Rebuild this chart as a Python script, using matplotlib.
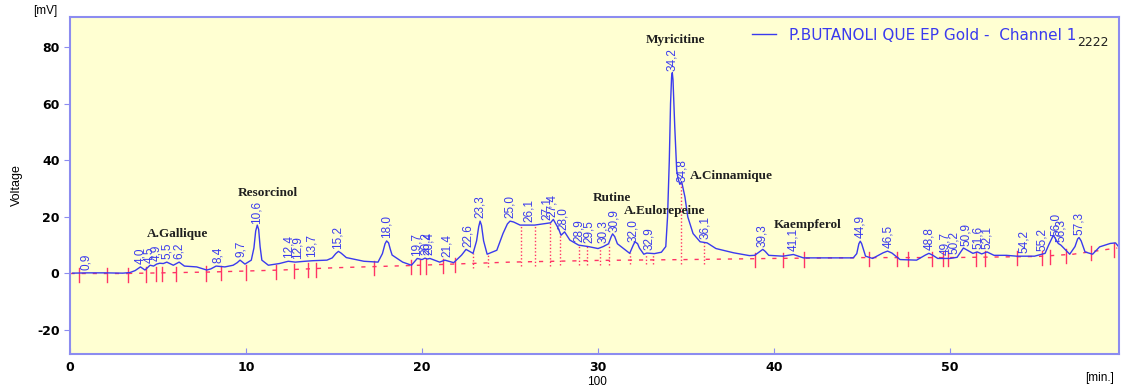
import matplotlib
matplotlib.use("Agg")
import matplotlib.pyplot as plt
import numpy as np

plt.rcParams["axes.unicode_minus"] = False

# chromatogram trace (min, mV)
trace_t = [0.15, 1.0, 2.0, 3.0, 3.4, 3.7, 4.0, 4.26, 4.55, 4.75, 4.92, 5.1, 5.3, 5.5,
           5.87, 6.2, 6.5, 7.2, 7.77, 8.0, 8.3, 8.8, 9.27, 9.5, 9.66, 9.94, 10.3, 10.45,
           10.55, 10.64, 10.72, 10.8, 10.9, 11.27, 11.9, 12.4, 12.8, 13.35, 13.8, 14.6,
           14.9, 15.1, 15.25, 15.4, 15.7, 16.7, 17.5, 17.75, 17.9, 17.99, 18.1, 18.2,
           18.3, 18.9, 19.4, 19.73, 20.0, 20.17, 20.3, 20.45, 21.0, 21.3, 21.8, 22.25,
           22.5, 22.9, 23.1, 23.22, 23.3, 23.38, 23.5, 23.7, 24.25, 24.6, 24.85, 25.0,
           25.2, 25.57, 26.4, 27.3, 27.46, 27.75, 27.9, 28.1, 28.4, 28.9, 29.45, 30.0,
           30.3, 30.6, 30.75, 30.83, 30.95, 31.1, 31.8, 32.0, 32.1, 32.25, 32.35, 32.6,
           32.77, 33.2, 33.6, 33.85, 33.95, 34.05, 34.12, 34.18, 34.22, 34.26, 34.3,
           34.36, 34.47, 34.55, 34.65, 34.75, 34.94, 35.1, 35.4, 35.8, 36.2, 36.7, 37.7,
           38.6, 38.9, 39.2, 39.36, 39.5, 39.7, 40.5, 41.1, 41.67, 44.5, 44.7, 44.82,
           44.9, 44.98, 45.2, 45.6, 46.2, 46.45, 46.7, 47.16, 48.1, 48.6, 48.8, 49.0,
           49.3, 50.0, 50.4, 50.76, 51.3, 51.55, 51.8, 52.1, 52.5, 53.2, 53.8, 54.8,
           55.4, 55.6, 55.87, 56.15, 56.3, 56.8, 57.1, 57.25, 57.33, 57.45, 57.67, 58.1,
           58.5, 59.1, 59.4, 59.56]
trace_mv = [0.1, 0.2, 0.2, 0.1, 0.3, 1.0, 2.3, 1.2, 2.9, 2.6, 3.3, 3.6, 3.5, 4.0,
            2.9, 4.0, 2.6, 2.3, 1.2, 1.6, 2.6, 2.3, 2.9, 3.8, 4.7, 3.3, 4.7, 9.0,
            15.0, 17.1, 15.5, 9.5, 4.7, 2.9, 3.5, 4.3, 4.0, 4.3, 4.5, 4.7,
            5.5, 7.0, 7.8, 7.2, 5.6, 4.3, 4.0, 7.0, 10.5, 11.5, 10.8, 8.5,
            6.5, 4.0, 2.9, 5.3, 4.9, 5.4, 5.1, 5.3, 4.0, 4.7, 3.8, 6.5,
            8.5, 7.1, 11.5, 16.5, 18.5, 17.0, 11.5, 6.8, 8.2, 14.1, 17.5, 18.5,
            18.2, 17.1, 17.1, 17.9, 19.1, 15.9, 13.5, 14.7, 11.8, 10.0, 9.5, 8.8,
            9.5, 10.5, 13.0, 14.0, 13.0, 10.5, 7.1, 10.0, 11.2, 10.5, 9.0, 6.8,
            7.2, 7.0, 7.5, 9.5, 20.0, 40.0, 60.0, 69.5, 71.0, 68.5, 62.0,
            51.8, 36.5, 33.5, 31.5, 32.5, 27.0, 20.0, 14.1, 11.2, 10.8, 8.8, 7.3,
            6.3, 6.4, 7.8, 8.5, 7.8, 6.4, 6.1, 6.7, 5.5, 5.5, 7.0, 10.5,
            11.4, 10.5, 6.1, 5.3, 7.3, 7.9, 7.2, 4.9, 4.7, 6.5, 7.1, 6.5,
            5.3, 5.3, 5.7, 9.0, 7.1, 7.6, 6.9, 7.6, 6.4, 6.4, 6.1, 6.1,
            7.1, 10.0, 13.5, 10.6, 10.0, 6.8, 9.5, 12.2, 12.7, 11.5, 7.6, 6.8,
            9.4, 10.6, 10.8, 9.6]

# integration baseline (red dashed)
base_t = [3.3, 8.0, 12.0, 15.0, 19.4, 25.0, 30.0, 35.0, 40.0, 45.0, 50.0, 55.0, 57.0, 59.5]
base_mv = [0.0, 0.5, 1.2, 2.0, 2.8, 4.0, 4.6, 4.9, 5.3, 5.6, 5.6, 6.0, 6.8, 9.0]

# peak boundary marks and drop lines
mark_t = [0.5, 2.1, 3.3, 4.3, 4.9, 5.2, 6.0, 7.7, 8.6, 10.0, 11.7, 12.7, 13.5, 14.0,
          17.3, 19.4, 19.9, 20.2, 21.2, 21.9, 38.9, 40.5, 41.7, 45.4, 47.0, 47.6,
          49.0, 49.6, 49.9, 51.5, 52.0, 53.8, 55.2, 55.7, 56.6, 58.0, 59.3]
drop_t = [22.9, 23.75, 25.6, 26.4, 27.3, 27.85, 28.9, 29.4, 30.1, 30.6, 31.8, 32.7,
          33.1, 34.7, 36.0]

# retention time labels
peak_rt = [0.9, 4.0, 4.5, 4.9, 5.5, 6.2, 8.4, 9.7, 10.6, 12.4, 12.9, 13.7, 15.2, 18.0,
           19.7, 20.2, 20.4, 21.4, 22.6, 23.3, 25.0, 26.1, 27.1, 27.4, 28.0, 28.9,
           29.5, 30.3, 30.9, 32.0, 32.9, 34.2, 34.8, 36.1, 39.3, 41.1, 44.9, 46.5,
           48.8, 49.7, 50.2, 50.9, 51.6, 52.1, 54.2, 55.2, 56.0, 56.3, 57.3]

# compound names
names = ["A.Gallique", "Resorcinol", "Rutine", "A.Eulorepeine", "Myricitine",
         "A.Cinnamique", "Kaempferol"]
name_t = [6.1, 11.25, 30.8, 33.8, 34.4, 37.6, 41.9]
name_mv = [14.0, 28.3, 26.6, 22.0, 82.4, 34.4, 17.0]

blue = "#3a3aee"
red = "#ff3366"
frame = "#8c8cf0"

fig = plt.figure(figsize=(11.25, 3.89), dpi=100)
ax = fig.add_axes([70 / 1125, 1 - 354 / 389, 1049 / 1125, 337 / 389])
ax.set_facecolor("#ffffd2")

# baseline
ax.plot([0.0, 3.3], [0.0, 0.0], color=red, lw=1, ls=(0, (3, 5)))
ax.plot(base_t, base_mv, color=red, lw=1, ls=(0, (3, 5)))

for t in mark_t:
    b = np.interp(t, base_t, base_mv) if t >= 3.3 else 0.0
    ax.plot([t, t], [b - 3.0, b + 2.0], color=red, lw=1)
for t in drop_t:
    b = np.interp(t, base_t, base_mv)
    c = np.interp(t, trace_t, trace_mv)
    ax.plot([t, t], [b - 1.5, c], color=red, lw=1, ls=(0, (1, 1.5)))

ax.plot(trace_t, trace_mv, color=blue, lw=1, label="P.BUTANOLI QUE EP Gold -  Channel 1")

narrow = ["Liberation Sans Narrow", "Liberation Sans", "DejaVu Sans"]
for rt in peak_rt:
    y = np.interp(rt, trace_t, trace_mv) + 1.2
    ax.text(rt, y, f"{rt:.1f}".replace(".", ","), rotation=90, ha="center", va="bottom",
            color=blue, fontsize=8.5, family=narrow)

for n, t, y in zip(names, name_t, name_mv):
    ax.text(t, y, n, ha="center", va="center", fontsize=9.5, fontweight="bold",
            family=["Liberation Serif", "DejaVu Serif"], color="#202020")

ax.set_xlim(0, 59.6)
ax.set_ylim(-28.5, 90.7)
ax.set_xticks([0, 10, 20, 30, 40, 50])
ax.set_yticks([-20, 0, 20, 40, 60, 80])
for s in ax.spines.values():
    s.set_color(frame)
    s.set_linewidth(1.5)
ax.tick_params(axis="x", direction="in", length=4, color=frame, pad=5)
ax.tick_params(axis="y", direction="out", length=4, color=frame)
for lab in ax.get_xticklabels() + ax.get_yticklabels():
    lab.set_fontsize(9)
    lab.set_fontweight("bold")

leg = ax.legend(loc="upper left", bbox_to_anchor=(0.64, 1.0), frameon=False,
                handlelength=1.6, fontsize=11, borderpad=0.2, handletextpad=0.8)
for txt in leg.get_texts():
    txt.set_color(blue)
ax.text(0.975, 0.925, "2222", transform=ax.transAxes, ha="center", va="center",
        fontsize=9, color="#202020")

fig.text(45 / 1125, 1 - 11 / 389, "[mV]", ha="center", va="center", fontsize=8.5, family=narrow)
fig.text(17 / 1125, 1 - 185 / 389, "Voltage", rotation=90, ha="center", va="center",
         fontsize=9, family=narrow)
fig.text(1100 / 1125, 1 - 378 / 389, "[min.]", ha="center", va="center", fontsize=8.5, family=narrow)
fig.text(597 / 1125, 1 - 382 / 389, "100", ha="center", va="center", fontsize=8.5, family=narrow)

fig.savefig("out.png", dpi=100)
